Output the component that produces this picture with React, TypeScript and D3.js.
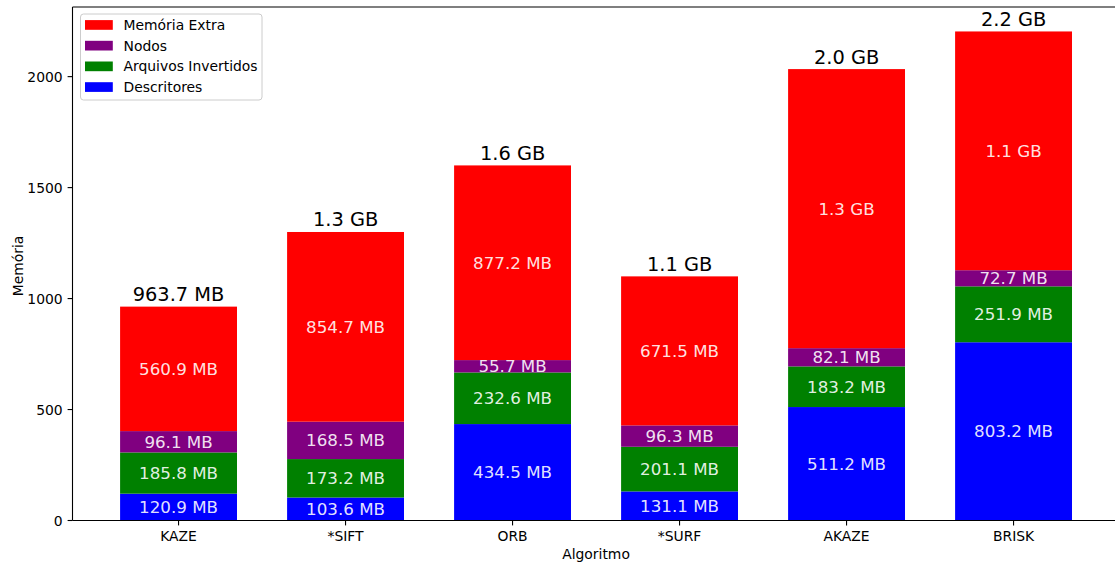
import React from "react";
import * as d3 from "d3";

// algorithms on the x axis
const algorithms = ["KAZE", "*SIFT", "ORB", "*SURF", "AKAZE", "BRISK"];

// memory per component, in MB (stacked bottom -> top)
const descritores = [120.9, 103.6, 434.5, 131.1, 511.2, 803.2];
const arquivosInvertidos = [185.8, 173.2, 232.6, 201.1, 183.2, 251.9];
const nodos = [96.1, 168.5, 55.7, 96.3, 82.1, 72.7];
const memoriaExtra = [560.9, 854.7, 877.2, 671.5, 1257.5, 1075.8];

const yTicks = [0, 500, 1000, 1500, 2000];

const seriesNames = ["Descritores", "Arquivos Invertidos", "Nodos", "Memória Extra"];
const seriesColors = ["#0000ff", "#008000", "#800080", "#ff0000"];

const W = 1115;
const H = 565;
const FONT = "DejaVu Sans, sans-serif";

const fmt = (v: number) =>
  v >= 1000 ? `${(v / 1000).toFixed(1)} GB` : `${v.toFixed(1)} MB`;

export default function App() {
  // rows for d3.stack
  const rows = algorithms.map((a, i) => ({
    algo: a,
    Descritores: descritores[i],
    "Arquivos Invertidos": arquivosInvertidos[i],
    Nodos: nodos[i],
    "Memória Extra": memoriaExtra[i],
  }));

  const stacked = d3.stack<any>().keys(seriesNames)(rows);
  const totals = rows.map((r) => d3.sum(seriesNames, (k) => r[k]));
  const maxTotal = d3.max(totals) as number;

  const plotLeft = 72.5;
  const plotRight = 1119.6;
  const plotTop = 7;
  const plotBottom = 520.5;

  const x = d3
    .scaleBand()
    .domain(algorithms)
    .range([plotLeft, plotRight])
    .paddingInner(0.3)
    .paddingOuter(0.285);

  const y = d3
    .scaleLinear()
    .domain([0, maxTotal * 1.05])
    .range([plotBottom, plotTop]);

  const color = d3.scaleOrdinal<string>().domain(seriesNames).range(seriesColors);

  const legendItems = [...seriesNames].reverse();

  return (
    <svg
      width={W}
      height={H}
      style={{ position: "absolute", left: 0, top: 0, background: "#fff" }}
      fontFamily={FONT}
    >
      {/* bars */}
      {stacked.map((layer) => (
        <g key={layer.key} fill={color(layer.key)}>
          {layer.map((d, i) => (
            <rect
              key={i}
              x={x(algorithms[i])}
              y={y(d[1])}
              width={x.bandwidth()}
              height={y(d[0]) - y(d[1])}
            />
          ))}
        </g>
      ))}

      {/* segment labels */}
      {stacked.map((layer) =>
        layer.map((d, i) => (
          <text
            key={layer.key + i}
            x={(x(algorithms[i]) as number) + x.bandwidth() / 2}
            y={(y(d[0]) + y(d[1])) / 2}
            dy="0.36em"
            textAnchor="middle"
            fontSize={16.7}
            fill="rgba(255,255,255,0.9)"
          >
            {fmt(d[1] - d[0])}
          </text>
        ))
      )}

      {/* totals */}
      {totals.map((t, i) => (
        <text
          key={"t" + i}
          x={(x(algorithms[i]) as number) + x.bandwidth() / 2}
          y={y(t) - 5.5}
          textAnchor="middle"
          fontSize={19.4}
          fill="#000"
        >
          {fmt(t)}
        </text>
      ))}

      {/* spines */}
      <line x1={plotLeft} x2={plotLeft} y1={plotTop} y2={plotBottom} stroke="#000" strokeWidth={1.1} />
      <line x1={plotLeft} x2={W} y1={plotBottom} y2={plotBottom} stroke="#000" strokeWidth={1.1} />
      <line x1={plotLeft} x2={W} y1={plotTop} y2={plotTop} stroke="#000" strokeWidth={1.1} />

      {/* y axis */}
      {yTicks.map((t) => (
        <g key={t} transform={`translate(0,${y(t)})`}>
          <line x1={plotLeft - 4.9} x2={plotLeft} stroke="#000" strokeWidth={1.1} />
          <text x={plotLeft - 9.8} dy="0.36em" textAnchor="end" fontSize={13.9} fill="#000">
            {t}
          </text>
        </g>
      ))}
      <text
        transform="translate(22.5,266) rotate(-90)"
        textAnchor="middle"
        fontSize={13.9}
        fill="#000"
      >
        Memória
      </text>

      {/* x axis */}
      {algorithms.map((a) => {
        const cx = (x(a) as number) + x.bandwidth() / 2;
        return (
          <g key={a} transform={`translate(${cx},0)`}>
            <line y1={plotBottom} y2={plotBottom + 4.9} stroke="#000" strokeWidth={1.1} />
            <text y={540.7} textAnchor="middle" fontSize={13.9} fill="#000">
              {a}
            </text>
          </g>
        );
      })}
      <text x={(plotLeft + plotRight) / 2} y={559} textAnchor="middle" fontSize={13.9} fill="#000">
        Algoritmo
      </text>

      {/* legend */}
      <g>
        <rect
          x={80.5}
          y={14}
          width={181.5}
          height={86}
          rx={3}
          fill="rgba(255,255,255,0.8)"
          stroke="#cccccc"
          strokeWidth={1}
        />
        {legendItems.map((name, i) => {
          const cy = 25 + i * 20.7;
          return (
            <g key={name}>
              <rect x={85} y={cy - 4.9} width={27.8} height={9.7} fill={color(name)} />
              <text x={123.5} y={cy} dy="0.36em" fontSize={13.9} fill="#000">
                {name}
              </text>
            </g>
          );
        })}
      </g>
    </svg>
  );
}
